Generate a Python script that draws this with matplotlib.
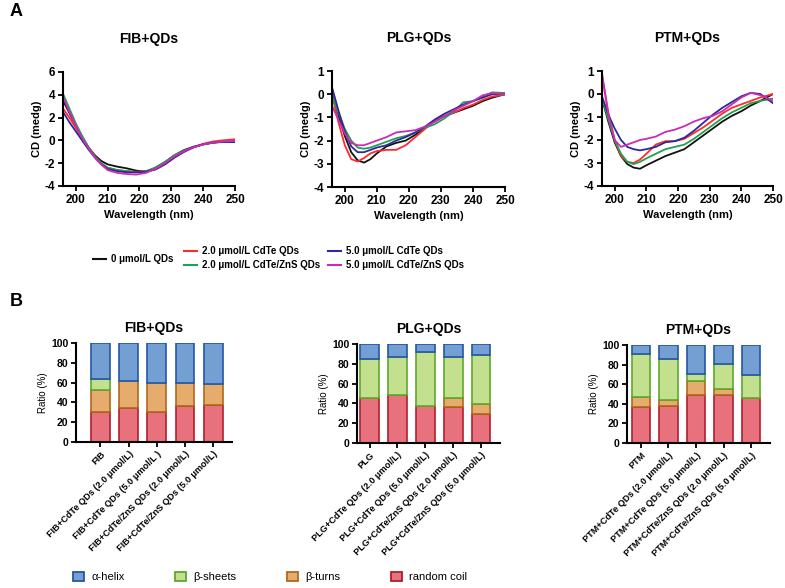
import matplotlib
matplotlib.use("Agg")
import matplotlib.pyplot as plt
from matplotlib.lines import Line2D
from matplotlib.patches import Patch
import numpy as np

plt.rcParams['font.family'] = ['Liberation Sans', 'DejaVu Sans']
plt.rcParams['axes.unicode_minus'] = False

# ---- CD spectra ----
wl = [196, 198, 200, 202, 204, 206, 208, 210, 213, 216, 219, 222, 225, 228, 231, 234, 237, 240, 243, 246, 250]

fib_cd = {
    '0':        [3.5, 2.4, 1.3, 0.3, -0.6, -1.3, -1.8, -2.1, -2.3, -2.45, -2.65, -2.75, -2.4, -1.9, -1.3, -0.85, -0.55, -0.35, -0.2, -0.1, -0.1],
    'cdte2':    [2.8, 2.0, 1.1, 0.2, -0.6, -1.4, -2.0, -2.4, -2.6, -2.7, -2.75, -2.7, -2.55, -2.1, -1.5, -1.0, -0.6, -0.3, -0.1, 0.0, 0.1],
    'zns2':     [4.1, 2.8, 1.5, 0.4, -0.6, -1.4, -2.0, -2.4, -2.6, -2.7, -2.8, -2.7, -2.4, -1.9, -1.3, -0.9, -0.6, -0.35, -0.2, -0.1, -0.05],
    'cdte5':    [2.5, 1.6, 0.8, 0.0, -0.8, -1.5, -2.1, -2.5, -2.7, -2.8, -2.8, -2.75, -2.55, -2.1, -1.5, -1.0, -0.6, -0.35, -0.2, -0.15, -0.15],
    'zns5':     [3.8, 2.5, 1.3, 0.2, -0.7, -1.5, -2.1, -2.6, -2.85, -2.95, -3.0, -2.85, -2.5, -2.0, -1.4, -0.95, -0.6, -0.35, -0.2, -0.1, -0.05],
}
plg_cd = {
    '0':        [0.0, -0.9, -1.8, -2.5, -2.85, -2.95, -2.8, -2.55, -2.25, -2.1, -2.0, -1.75, -1.45, -1.15, -0.95, -0.8, -0.65, -0.5, -0.3, -0.15, 0.0],
    'cdte2':    [0.0, -1.2, -2.2, -2.8, -2.9, -2.75, -2.55, -2.45, -2.4, -2.4, -2.2, -1.85, -1.5, -1.15, -0.95, -0.8, -0.6, -0.45, -0.25, -0.1, -0.02],
    'zns2':     [-0.1, -0.8, -1.5, -2.0, -2.3, -2.35, -2.3, -2.2, -2.05, -1.9, -1.8, -1.65, -1.45, -1.3, -1.05, -0.75, -0.35, -0.3, -0.1, 0.08, 0.05],
    'cdte5':    [0.3, -0.7, -1.6, -2.25, -2.5, -2.5, -2.4, -2.3, -2.2, -2.0, -1.85, -1.65, -1.4, -1.1, -0.85, -0.65, -0.45, -0.3, -0.15, 0.0, 0.02],
    'zns5':     [-0.5, -1.1, -1.7, -2.1, -2.2, -2.2, -2.1, -2.0, -1.85, -1.65, -1.6, -1.55, -1.4, -1.2, -0.95, -0.7, -0.5, -0.3, -0.05, 0.05, 0.0],
}
ptm_cd = {
    '0':        [-0.2, -1.2, -2.1, -2.7, -3.05, -3.2, -3.25, -3.1, -2.9, -2.7, -2.55, -2.4, -2.1, -1.8, -1.5, -1.2, -0.95, -0.75, -0.5, -0.3, 0.0],
    'cdte2':    [0.8, -0.8, -2.0, -2.7, -2.95, -3.0, -2.85, -2.6, -2.2, -2.05, -2.05, -1.95, -1.7, -1.45, -1.15, -0.85, -0.6, -0.45, -0.3, -0.15, 0.0],
    'zns2':     [-0.2, -1.1, -2.0, -2.6, -2.95, -3.05, -2.95, -2.8, -2.6, -2.4, -2.3, -2.2, -1.95, -1.65, -1.35, -1.05, -0.8, -0.6, -0.4, -0.3, -0.2],
    'cdte5':    [-0.1, -0.9, -1.5, -2.0, -2.3, -2.4, -2.45, -2.4, -2.3, -2.1, -2.05, -1.9, -1.6, -1.25, -0.9, -0.6, -0.35, -0.1, 0.05, 0.0, -0.4],
    'zns5':     [0.9, -0.9, -2.0, -2.3, -2.2, -2.1, -2.0, -1.95, -1.85, -1.65, -1.55, -1.4, -1.2, -1.05, -0.95, -0.75, -0.45, -0.15, 0.05, -0.05, -0.3],
}

series_keys = ['0', 'cdte2', 'zns2', 'cdte5', 'zns5']
series_labels = ['0 μmol/L QDs', '2.0 μmol/L CdTe QDs', '2.0 μmol/L CdTe/ZnS QDs',
                 '5.0 μmol/L CdTe QDs', '5.0 μmol/L CdTe/ZnS QDs']
series_colors = ['#111111', '#FF2A2A', '#22A04E', '#2A2A9A', '#CC2AB8']

# ---- secondary structure ratios (%) ----
conds = ['', '+CdTe QDs (2.0 μmol/L)', '+CdTe QDs (5.0 μmol/L)',
         '+CdTe/ZnS QDs (2.0 μmol/L)', '+CdTe/ZnS QDs (5.0 μmol/L)']
fib_labels = ['FIB', 'FIB+CdTe QDs (2.0 μmol/L)', 'FIB+CdTe QDs (5.0 μmol/L )',
              'FIB+CdTe/ZnS QDs (2.0 μmol/L)', 'FIB+CdTe/ZnS QDs (5.0 μmol/L)']
plg_labels = ['PLG' + c for c in conds]
ptm_labels = ['PTM' + c for c in conds]

fib_coil = [30, 34, 30, 36, 37]
fib_turns = [23, 28, 30, 24, 22]
fib_sheets = [11, 0, 0, 0, 0]
fib_helix = [36, 38, 40, 40, 41]

plg_coil = [45, 48, 37, 36, 29]
plg_turns = [0, 0, 0, 9, 10]
plg_sheets = [40, 39, 55, 42, 50]
plg_helix = [15, 13, 8, 13, 11]

ptm_coil = [37, 38, 49, 49, 46]
ptm_turns = [10, 6, 14, 6, 0]
ptm_sheets = [44, 42, 7, 26, 23]
ptm_helix = [9, 14, 30, 19, 31]

struct_names = ['α-helix', 'β-sheets', 'β-turns', 'random coil']
struct_fill = ['#739FD3', '#C2E08E', '#E6AC6E', '#E7727E']
struct_edge = ['#2556A6', '#5EA82C', '#B0681C', '#B01E2C']

W, H = 785, 588
fig = plt.figure(figsize=(W / 100, H / 100), dpi=100)


def px_axes(x0, x1, ytop, ybot):
    return fig.add_axes([x0 / W, 1 - ybot / H, (x1 - x0) / W, (ybot - ytop) / H])


def style(ax, size=8.5):
    for s in ['top', 'right']:
        ax.spines[s].set_visible(False)
    for s in ['left', 'bottom']:
        ax.spines[s].set_linewidth(1.5)
    ax.tick_params(width=1.3, length=3.5, labelsize=size, pad=2)
    for t in ax.get_xticklabels() + ax.get_yticklabels():
        t.set_fontweight('bold')


cd_sets = [
    ('FIB+QDs', fib_cd, (63, 235, 72, 186), (-4, 6), [-4, -2, 0, 2, 4, 6]),
    ('PLG+QDs', plg_cd, (332, 505, 71, 187), (-4, 1), [-4, -3, -2, -1, 0, 1]),
    ('PTM+QDs', ptm_cd, (602, 773, 71, 186), (-4, 1), [-4, -3, -2, -1, 0, 1]),
]
for title, data, box, ylim, yt in cd_sets:
    ax = px_axes(*box)
    for k, c in zip(series_keys, series_colors):
        ax.plot(wl, data[k], color=c, lw=1.3)
    ax.set_xlim(196, 250)
    ax.set_ylim(*ylim)
    ax.set_xticks([200, 210, 220, 230, 240, 250])
    ax.set_yticks(yt)
    style(ax)
    ax.set_xlabel('Wavelength (nm)', fontsize=8, fontweight='bold', labelpad=3)
    ax.set_ylabel('CD (medg)', fontsize=8, fontweight='bold', labelpad=2)
    ax.set_title(title, fontsize=10, fontweight='bold', pad=21)

# legend for CD curves
handles = [Line2D([], [], color=c, lw=1.5) for c in series_colors]
leg_kw = dict(frameon=False, handlelength=1.3, handletextpad=0.6, labelspacing=0.4,
              prop={'size': 7, 'weight': 'bold'}, borderaxespad=0, borderpad=0)
fig.legend(handles[:1], series_labels[:1], loc='center left',
           bbox_to_anchor=(93 / W, 1 - 259 / H), **leg_kw)
fig.legend(handles[1:3], series_labels[1:3], loc='center left',
           bbox_to_anchor=(184 / W, 1 - 258 / H), **leg_kw)
fig.legend(handles[3:5], series_labels[3:5], loc='center left',
           bbox_to_anchor=(328 / W, 1 - 258 / H), **leg_kw)

bar_sets = [
    ('FIB+QDs', fib_labels, [fib_helix, fib_sheets, fib_turns, fib_coil], (76, 232, 343, 442), (-0.87, 4.67)),
    ('PLG+QDs', plg_labels, [plg_helix, plg_sheets, plg_turns, plg_coil], (357, 500, 344, 443), (-0.45, 4.68)),
    ('PTM+QDs', ptm_labels, [ptm_helix, ptm_sheets, ptm_turns, ptm_coil], (627, 770, 345, 443), (-0.5, 4.68)),
]
for title, labels, parts, box, xlim in bar_sets:
    ax = px_axes(*box)
    x = np.arange(len(labels))
    bottom = np.zeros(len(labels))
    # stack from bottom: random coil, beta-turns, beta-sheets, alpha-helix
    for i in [3, 2, 1, 0]:
        vals = np.array(parts[i], dtype=float)
        ax.bar(x, vals, 0.67, bottom=bottom, color=struct_fill[i],
               edgecolor=struct_edge[i], linewidth=1.2)
        bottom += vals
    ax.set_xlim(*xlim)
    ax.set_ylim(0, 100)
    ax.set_yticks([0, 20, 40, 60, 80, 100])
    ax.set_xticks(x)
    ax.set_xticklabels(labels, rotation=45, ha='right', rotation_mode='anchor')
    style(ax, 7.5)
    for t in ax.get_xticklabels():
        t.set_fontsize(6.6)
    ax.set_ylabel('Ratio (%)', fontsize=7, labelpad=2)
    ax.set_title(title, fontsize=10, fontweight='bold', pad=8)

patches = [Patch(facecolor=f, edgecolor=e, linewidth=1.3) for f, e in zip(struct_fill, struct_edge)]
fig.legend(patches, struct_names, loc='center', bbox_to_anchor=(270 / W, 1 - 577 / H), ncol=4,
           frameon=False, handlelength=1.0, handleheight=0.9, handletextpad=0.7,
           columnspacing=4.5, prop={'size': 8}, borderpad=0)

fig.text(10 / W, 1 - 12 / H, 'A', fontsize=13, fontweight='bold', va='center')
fig.text(10 / W, 1 - 302 / H, 'B', fontsize=13, fontweight='bold', va='center')

fig.savefig('out.png', dpi=100)
